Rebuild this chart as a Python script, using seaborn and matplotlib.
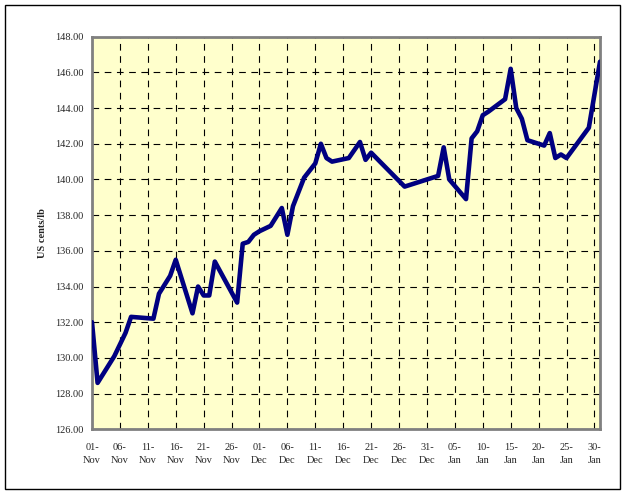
import matplotlib
matplotlib.use("Agg")
import matplotlib.pyplot as plt
import matplotlib.dates as mdates
import seaborn as sns
import pandas as pd
import numpy as np
from matplotlib.patches import Rectangle

# ---- data ----
dates = ["2010-11-01", "2010-11-02", "2010-11-05", "2010-11-07", "2010-11-08",
         "2010-11-12", "2010-11-13", "2010-11-15", "2010-11-16", "2010-11-19",
         "2010-11-20", "2010-11-21", "2010-11-22", "2010-11-23", "2010-11-27",
         "2010-11-28", "2010-11-29", "2010-11-30", "2010-12-01", "2010-12-03",
         "2010-12-05", "2010-12-06", "2010-12-07", "2010-12-09", "2010-12-11",
         "2010-12-12", "2010-12-13", "2010-12-14", "2010-12-17", "2010-12-19",
         "2010-12-20", "2010-12-21", "2010-12-27", "2011-01-02", "2011-01-03",
         "2011-01-04", "2011-01-07", "2011-01-08", "2011-01-09", "2011-01-10",
         "2011-01-11", "2011-01-14", "2011-01-15", "2011-01-16", "2011-01-17",
         "2011-01-18", "2011-01-21", "2011-01-22", "2011-01-23", "2011-01-24",
         "2011-01-25", "2011-01-29", "2011-01-31"]
prices = [132.0, 128.6, 130.1, 131.4, 132.3,
          132.2, 133.6, 134.6, 135.5, 132.5,
          134.0, 133.5, 133.5, 135.4, 133.1,
          136.4, 136.5, 136.9, 137.1, 137.4,
          138.4, 136.9, 138.5, 140.1, 140.9,
          142.0, 141.2, 141.0, 141.2, 142.1,
          141.1, 141.5, 139.6, 140.2, 141.8,
          140.0, 138.9, 142.3, 142.7, 143.6,
          143.8, 144.5, 146.2, 144.0, 143.4,
          142.2, 141.9, 142.6, 141.2, 141.4,
          141.2, 142.9, 146.6]
tick_dates = pd.date_range("2010-11-01", "2011-01-30", freq="5D")
y_ticks = [126, 128, 130, 132, 134, 136, 138, 140, 142, 144, 146, 148]
y_label = "US cents/lb"

df = pd.DataFrame({"date": pd.to_datetime(dates), "price": prices})

sns.set_theme(style="white")
plt.rcParams["font.family"] = ["Liberation Serif", "DejaVu Serif"]

fig = plt.figure(figsize=(6.25, 4.94), dpi=100)
fig.patch.set_facecolor("white")
fig.patches.append(Rectangle((5 / 625, 5 / 494), 615 / 625, 484 / 494,
                             transform=fig.transFigure, fill=False,
                             edgecolor="black", linewidth=1.0))

ax = fig.add_axes([92 / 625, 1 - 429.3 / 494, (600 - 92) / 625, (429.3 - 36.7) / 494])
ax.set_facecolor("#FFFFCC")

sns.lineplot(data=df, x="date", y="price", ax=ax, color="#000080",
             linewidth=3.3, zorder=3)

ax.set_xlim(pd.Timestamp("2010-11-01"), pd.Timestamp("2011-01-31"))
ax.set_ylim(126, 148)
ax.set_yticks(y_ticks)
ax.set_yticklabels([f"{v:.2f}" for v in y_ticks], fontsize=7.5)
ax.set_xticks(tick_dates)
ax.set_xticklabels([d.strftime("%d-\n%b") for d in tick_dates], fontsize=7.5,
                   linespacing=1.5)
ax.set_xlabel("")
ax.set_ylabel(y_label, fontsize=7.5, fontweight="bold", labelpad=6)

ax.grid(True, which="major", color="black", linestyle=(0, (6, 5)),
        linewidth=0.8, zorder=1)
ax.tick_params(axis="both", direction="in", length=4, width=0.8,
               color="black", pad=6)
ax.tick_params(axis="x", pad=10)
for s in ax.spines.values():
    s.set_color("#808080")
    s.set_linewidth(2.0)
    s.set_visible(True)

fig.savefig("out.png", dpi=100)
